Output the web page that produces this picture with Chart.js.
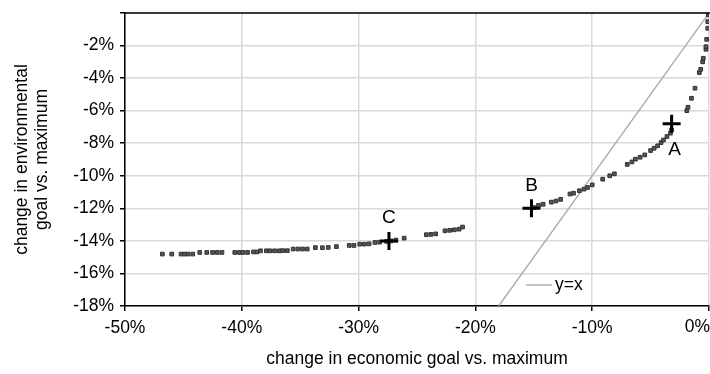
<!DOCTYPE html>
<html><head><meta charset="utf-8">
<script src="https://cdn.jsdelivr.net/npm/chart.js@4"></script>
<style>html,body{margin:0;padding:0;background:#fff}#wrap{width:710px;height:374px}</style>
</head><body><div id="wrap"><canvas id="c" width="710" height="374"></canvas></div>
<script>
// change in economic goal vs. maximum (%)
const econChange = [
 -46.8,-46.0,-45.2,-44.9,-44.6,-44.2,-43.6,-43.0,-42.5,-42.1,-41.7,
 -40.6,-40.2,-39.9,-39.5,-39.0,-38.7,-38.4,-37.9,-37.6,-37.2,-36.8,-36.5,-36.1,
 -35.6,-35.2,-34.8,-34.4,-33.7,-33.1,-32.6,-31.9,-30.8,-30.4,-29.9,-29.5,-29.1,
 -28.6,-28.2,-27.6,-27.2,-26.8,-26.1,-24.2,-23.8,-23.4,-22.6,-22.2,-21.8,-21.4,-21.1,
 -15.0,-14.6,-14.2,-13.5,-13.1,-12.7,-11.9,-11.6,-11.1,-10.7,-10.4,-10.0,-9.1,-8.5,-8.1,
 -7.0,-6.6,-6.3,-5.9,-5.5,-5.0,-4.7,-4.4,-4.1,-3.9,-3.6,-3.3,-3.2,
 -1.9,-1.8,-1.5,-1.2,-0.83,-0.71,-0.54,-0.49,-0.26,-0.26,-0.2,-0.11,-0.11,-0.06,0
];
// change in environmental goal vs. maximum (%)
const envChange = [
 -14.81,-14.81,-14.81,-14.81,-14.81,-14.81,-14.71,-14.71,-14.71,-14.71,-14.71,
 -14.71,-14.71,-14.71,-14.71,-14.68,-14.68,-14.61,-14.61,-14.61,-14.61,-14.61,-14.6,-14.6,
 -14.5,-14.5,-14.5,-14.5,-14.41,-14.42,-14.4,-14.35,-14.28,-14.28,-14.2,-14.2,-14.18,
 -14.1,-14.08,-14.03,-14.0,-13.95,-13.83,-13.62,-13.6,-13.57,-13.38,-13.35,-13.32,-13.28,-13.15,
 -11.95,-11.82,-11.75,-11.62,-11.55,-11.45,-11.12,-11.07,-10.92,-10.82,-10.72,-10.56,-10.21,-10.0,-9.88,
 -9.3,-9.15,-8.98,-8.86,-8.72,-8.45,-8.31,-8.16,-7.96,-7.8,-7.59,-7.38,-7.18,
 -6.0,-5.79,-5.24,-4.62,-3.66,-3.46,-3.0,-2.78,-2.23,-2.07,-1.62,-0.94,-0.53,-0.12,0
];
const markerNames = ['A','B','C'];
const markerEcon = [-3.2,-15.2,-27.4];
const markerEnv = [-6.8,-12.0,-14.0];
const identityX = [0,-18];
const identityY = [0,-18];
const identityLabel = 'y=x';
const xTicks = [-50,-40,-30,-20,-10,0];
const yTicks = [-18,-16,-14,-12,-10,-8,-6,-4,-2,0];
const xTitle = 'change in economic goal vs. maximum';
const yTitle = ['change in environmental','goal vs. maximum'];

const FONT = '"Liberation Sans", Arial, sans-serif';
const FS = 17.5;
const fmtPct = v => v + '%';
const lastX = xTicks[xTicks.length-1];

const pts = econChange.map((x,i)=>({x, y: envChange[i]}));
const marks = markerEcon.map((x,i)=>({x, y: markerEnv[i]}));
const ident = identityX.map((x,i)=>({x, y: identityY[i]}));

const extras = {
  id:'extras',
  afterDraw(chart){
    const ctx = chart.ctx, a = chart.chartArea;
    const xs = chart.scales.x, ys = chart.scales.y;
    ctx.save();
    ctx.strokeStyle = '#000'; ctx.lineWidth = 1.5;
    ctx.beginPath(); ctx.moveTo(a.left, a.top); ctx.lineTo(a.right+1, a.top); ctx.stroke();
    ctx.fillStyle = '#000';
    // last x tick label, kept inside the canvas edge
    ctx.font = FS + 'px ' + FONT;
    ctx.textAlign = 'right'; ctx.textBaseline = 'top';
    ctx.fillText(fmtPct(lastX), chart.width, a.bottom + 5 + 7);
    const offs = {A:[3,26], B:[0,-23], C:[0,-23]};
    ctx.font = '19px ' + FONT;
    ctx.textAlign = 'center'; ctx.textBaseline = 'middle';
    markerNames.forEach((n,i)=>{
      const px = xs.getPixelForValue(markerEcon[i]);
      const py = ys.getPixelForValue(markerEnv[i]);
      const o = offs[n];
      ctx.fillText(n, px+o[0], py+o[1]);
    });
    const ly = a.bottom - 21;
    const lx = a.right - 183;
    ctx.strokeStyle = '#a6a6a6'; ctx.lineWidth = 1.3;
    ctx.beginPath(); ctx.moveTo(lx, ly); ctx.lineTo(lx+26, ly); ctx.stroke();
    ctx.font = FS + 'px ' + FONT; ctx.textAlign = 'left';
    ctx.fillText(identityLabel, lx+29, ly);
    ctx.restore();
  }
};

new Chart(document.getElementById('c'), {
  type:'scatter',
  data:{datasets:[
    {type:'line', label:identityLabel, data:ident, borderColor:'#a6a6a6', borderWidth:1.3, pointRadius:0, fill:false, order:3},
    {label:'solutions', data:pts, pointStyle:'rect', pointRadius:2.6, backgroundColor:'#555', borderColor:'#333', borderWidth:1, order:2},
    {label:'marks', data:marks, pointStyle:'cross', pointRadius:9, borderColor:'#000', borderWidth:3, order:1}
  ]},
  options:{
    responsive:false, animation:false, devicePixelRatio:1,
    layout:{autoPadding:false, padding:{top:13, right:1, left:0, bottom:0}},
    plugins:{legend:{display:false}, tooltip:{enabled:false}},
    scales:{
      x:{type:'linear', min:-50, max:0,
        afterBuildTicks(s){ s.ticks = xTicks.map(v=>({value:v})); },
        afterFit(s){ s.height = 68; s.paddingLeft = 0; s.paddingRight = 0; },
        ticks:{callback:v=>v===lastX?'':fmtPct(v), color:'#000', font:{family:FONT, size:FS}, padding:7, maxRotation:0},
        grid:{color:'#d9d9d9', lineWidth:1.5, tickColor:'#000', tickLength:5},
        border:{color:'#000', width:1.5},
        title:{display:true, text:xTitle, color:'#000', font:{family:FONT, size:FS}, padding:{top:1}}
      },
      y:{type:'linear', min:-18, max:0,
        afterBuildTicks(s){ s.ticks = yTicks.map(v=>({value:v})); },
        afterFit(s){ s.width = 125; s.paddingTop = 0; s.paddingBottom = 0; },
        ticks:{callback:v=>v===0?'':fmtPct(v), color:'#000', font:{family:FONT, size:FS}, padding:6},
        grid:{color:'#d9d9d9', lineWidth:1.5, tickColor:'#000', tickLength:5},
        border:{color:'#000', width:1.5},
        title:{display:true, text:yTitle, color:'#000', font:{family:FONT, size:FS, lineHeight:1.15}, padding:{top:12, bottom:4}}
      }
    }
  },
  plugins:[extras]
});
</script></body></html>
